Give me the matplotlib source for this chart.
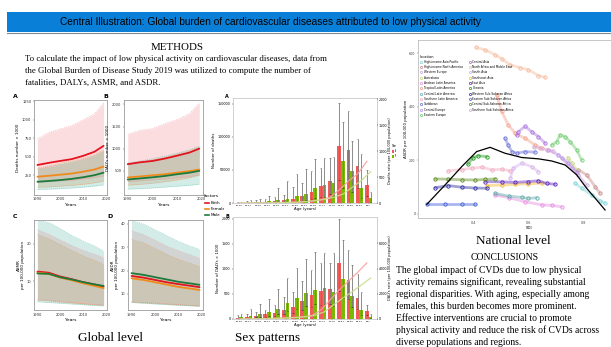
import matplotlib
matplotlib.use("Agg")
import matplotlib.pyplot as plt
from matplotlib.lines import Line2D
from matplotlib.patches import Rectangle
import numpy as np

W, H = 611, 347

# ---------------- data ----------------
title = "Central Illustration: Global burden of cardiovascular diseases attributed to low physical activity"
methods_lines = [
    "To calculate the impact of low physical activity on cardiovascular diseases, data from",
    "the Global Burden of Disease Study 2019 was utilized to compute the number of",
    "fatalities, DALYs, ASMR, and ASDR.",
]
conclusion_lines = [
    "The global impact of CVDs due to low physical",
    "activity remains significant, revealing substantial",
    "regional disparities. With aging, especially among",
    "females, this burden becomes more prominent.",
    "Effective interventions are crucial to promote",
    "physical activity and reduce the risk of CVDs across",
    "diverse populations and regions.",
]

years = [1990, 1995, 2000, 2005, 2010, 2015, 2019]
factors = ["Both", "Female", "Male"]

A_both = [386, 415, 441, 465, 509, 565, 645]
A_both_lo = [150, 160, 170, 180, 195, 215, 240]
A_both_hi = [736, 827, 873, 918, 995, 1077, 1223]
A_fem = [227, 240, 255, 270, 295, 325, 364]
A_fem_lo = [85, 90, 100, 110, 125, 145, 168]
A_fem_hi = [345, 375, 410, 440, 480, 530, 590]
A_male = [159, 170, 182, 198, 220, 248, 282]
A_male_lo = [55, 60, 66, 75, 86, 100, 118]
A_male_hi = [330, 360, 390, 420, 460, 510, 575]

B_both = [647, 690, 720, 774, 840, 910, 1000]
B_both_lo = [250, 270, 290, 310, 340, 370, 410]
B_both_hi = [1323, 1414, 1451, 1564, 1654, 1789, 2030]
B_fem = [346, 370, 395, 420, 455, 490, 526]
B_fem_lo = [173, 190, 215, 250, 290, 340, 398]
B_fem_hi = [660, 700, 745, 800, 880, 960, 1040]
B_male = [300, 325, 350, 380, 420, 455, 496]
B_male_lo = [83, 95, 110, 130, 150, 170, 195]
B_male_hi = [677, 720, 770, 830, 900, 970, 1053]

C_both = [12.6, 12.3, 11.3, 10.6, 9.8, 9.2, 8.6]
C_both_lo = [5.3, 5.0, 4.7, 4.4, 4.1, 3.9, 3.75]
C_both_hi = [23.7, 22.5, 21.0, 19.5, 18.2, 17.2, 16.3]
C_fem = [12.3, 12.0, 11.0, 10.3, 9.5, 8.8, 8.2]
C_fem_lo = [5.0, 4.8, 4.5, 4.3, 4.0, 3.8, 3.6]
C_fem_hi = [22.5, 21.3, 19.8, 18.2, 16.8, 15.6, 14.5]
C_male = [12.1, 12.0, 11.1, 10.5, 9.8, 9.2, 8.8]
C_male_lo = [4.6, 4.4, 4.2, 4.0, 3.8, 3.6, 3.5]
C_male_hi = [26.3, 25.6, 24.0, 22.2, 20.7, 19.4, 18.0]

D_both = [17.7, 17.0, 16.0, 15.0, 14.2, 13.5, 12.9]
D_both_lo = [6.7, 6.4, 6.1, 5.8, 5.4, 5.1, 4.9]
D_both_hi = [37.1, 35.5, 33.0, 30.5, 28.5, 26.8, 25.3]
D_fem = [16.7, 16.0, 15.0, 14.0, 13.0, 12.3, 11.7]
D_fem_lo = [6.5, 6.2, 5.9, 5.6, 5.3, 5.0, 4.8]
D_fem_hi = [33.4, 32.0, 29.5, 27.0, 24.8, 23.2, 21.7]
D_male = [18.9, 18.2, 17.2, 16.2, 15.2, 14.5, 13.9]
D_male_lo = [6.3, 6.0, 5.7, 5.4, 5.1, 4.9, 4.7]
D_male_hi = [41.4, 40.0, 37.5, 35.0, 32.5, 30.5, 29.1]

ages = ["25-29", "30-34", "35-39", "40-44", "45-49", "50-54", "55-59", "60-64",
        "65-69", "70-74", "75-79", "80-84", "85-89", "90-94", "95+"]
deaths_f = [200, 400, 800, 1500, 2500, 4000, 6000, 10000, 17000, 25000, 34000, 87000, 80000, 56000, 28000]
deaths_m = [300, 600, 1100, 2500, 4000, 6500, 10000, 14000, 22000, 28000, 31000, 63000, 48000, 23000, 7000]
deaths_f_lo = [50, 100, 200, 400, 700, 1200, 2000, 3500, 6000, 9000, 13000, 35000, 33000, 22000, 10000]
deaths_f_hi = [1500, 2500, 4000, 6500, 9000, 12000, 24000, 31000, 48000, 53000, 68000, 151000, 140000, 97000, 50000]
deaths_m_lo = [80, 150, 300, 700, 1200, 2000, 3000, 4500, 7000, 9000, 10000, 22000, 17000, 8000, 2000]
deaths_m_hi = [2000, 4000, 6500, 11000, 22000, 34000, 44000, 52000, 67000, 68000, 70000, 123000, 94000, 74000, 16000]
drate_f = [0.3, 0.6, 1, 2, 4, 7, 12, 20, 35, 60, 110, 250, 420, 560, 800]
drate_m = [0.5, 1, 2, 3, 6, 10, 17, 28, 45, 70, 110, 170, 300, 430, 600]

dalys_f = [26, 45, 65, 90, 123, 188, 240, 357, 480, 558, 597, 1116, 779, 415, 156]
dalys_m = [32, 58, 104, 143, 208, 318, 415, 519, 584, 610, 532, 805, 467, 175, 45]
dalys_f_lo = [10, 20, 30, 40, 60, 90, 120, 170, 230, 280, 300, 560, 400, 200, 70]
dalys_f_hi = [78, 97, 143, 175, 285, 435, 545, 760, 974, 1116, 1116, 1990, 1376, 889, 273]
dalys_m_lo = [12, 25, 45, 65, 95, 150, 200, 250, 290, 300, 260, 420, 230, 80, 20]
dalys_m_hi = [91, 208, 305, 402, 597, 824, 1019, 1194, 1343, 1311, 1311, 1570, 1084, 532, 91]
darate_f = [5, 10, 18, 30, 50, 80, 120, 180, 250, 700, 1500, 2300, 3000, 3700, 4450]
darate_m = [5, 10, 18, 30, 50, 80, 120, 180, 300, 570, 1120, 1660, 2160, 2700, 3250]

regions = ["High-income Asia Pacific", "High-income North America", "Western Europe", "Australasia",
           "Andean Latin America", "Tropical Latin America", "Central Latin America",
           "Southern Latin America", "Caribbean", "Central Europe", "Eastern Europe",
           "Central Asia", "North Africa and Middle East", "South Asia", "Southeast Asia",
           "East Asia", "Oceania", "Western Sub-Saharan Africa", "Eastern Sub-Saharan Africa",
           "Central Sub-Saharan Africa", "Southern Sub-Saharan Africa"]
region_colors = ["#7FD3D8", "#C98A8A", "#C7A3E0", "#C8D77A", "#E88BE0", "#F4A08C", "#5FA8A8",
                 "#F2A6BC", "#6A6FD6", "#B58BE8", "#6CCB6C", "#A86FE0", "#F7B89A", "#D6B0EC",
                 "#F2B830", "#5A1FC0", "#1A9A1A", "#2A2AA0", "#3E5FD8", "#5A8A1A", "#D9A8D8"]
sdi = {
    "High-income Asia Pacific": [0.771, 0.795, 0.832, 0.862, 0.880],
    "High-income North America": [0.783, 0.813, 0.844, 0.862],
    "Western Europe": [0.722, 0.759, 0.783, 0.813],
    "Australasia": [0.744, 0.759, 0.777],
    "Andean Latin America": [0.480, 0.529, 0.589, 0.650, 0.686, 0.722],
    "Tropical Latin America": [0.486, 0.504, 0.528, 0.553, 0.589, 0.625, 0.650],
    "Central Latin America": [0.480, 0.529, 0.577, 0.601, 0.631],
    "Southern Latin America": [0.310, 0.359, 0.395, 0.432, 0.468, 0.504, 0.535],
    "Caribbean": [0.516, 0.528, 0.541, 0.559, 0.589, 0.625],
    "Central Europe": [0.674, 0.710, 0.747, 0.777],
    "Eastern Europe": [0.686, 0.704, 0.716, 0.735, 0.753, 0.777, 0.795],
    "Central Asia": [0.559, 0.565, 0.589, 0.613, 0.638, 0.662],
    "North Africa and Middle East": [0.411, 0.444, 0.480, 0.504, 0.535, 0.571, 0.601, 0.638, 0.662],
    "South Asia": [0.535, 0.547, 0.577, 0.613, 0.638],
    "Southeast Asia": [0.450, 0.504, 0.553, 0.601, 0.650],
    "East Asia": [0.444, 0.504, 0.553, 0.601, 0.638, 0.668, 0.698],
    "Oceania": [0.381, 0.401, 0.419, 0.450],
    "Western Sub-Saharan Africa": [0.262, 0.310, 0.359, 0.407, 0.450],
    "Eastern Sub-Saharan Africa": [0.232, 0.298, 0.359, 0.407],
    "Central Sub-Saharan Africa": [0.262, 0.310, 0.359, 0.407, 0.444, 0.480],
    "Southern Sub-Saharan Africa": [0.620, 0.645, 0.670, 0.690],
}
asdr = {
    "High-income Asia Pacific": [115, 96, 71, 49, 40],
    "High-income North America": [165, 146, 102, 77],
    "Western Europe": [208, 171, 146, 108],
    "Australasia": [211, 190, 165],
    "Andean Latin America": [71, 61, 46, 34, 32, 27],
    "Tropical Latin America": [445, 383, 333, 302, 283, 258, 246],
    "Central Latin America": [77, 67, 62, 58, 61],
    "Southern Latin America": [161, 166, 171, 175, 165, 167, 161],
    "Caribbean": [283, 258, 233, 227, 233, 231],
    "Central Europe": [239, 221, 190, 158],
    "Eastern Europe": [258, 270, 295, 289, 270, 239, 202],
    "Central Asia": [295, 308, 327, 308, 289, 264],
    "North Africa and Middle East": [622, 613, 595, 580, 557, 547, 539, 517, 510],
    "South Asia": [133, 171, 190, 177, 158],
    "Southeast Asia": [106, 108, 111, 113, 115],
    "East Asia": [121, 120, 118, 121, 124, 114, 111],
    "Oceania": [186, 211, 218, 214],
    "Western Sub-Saharan Africa": [98, 106, 100, 97, 96],
    "Eastern Sub-Saharan Africa": [36, 36, 36, 36],
    "Central Sub-Saharan Africa": [131, 130, 128, 127, 129, 131],
    "Southern Sub-Saharan Africa": [250, 245, 240, 236],
}
trend_sdi = [0.232, 0.298, 0.359, 0.413, 0.462, 0.516, 0.577, 0.638, 0.686, 0.735, 0.777, 0.813, 0.844, 0.880]
trend_asdr = [36, 108, 177, 233, 249, 227, 211, 206, 198, 183, 146, 96, 59, 15]

# ---------------- helpers ----------------
fig = plt.figure(figsize=(W / 100, H / 100), dpi=100)
fig.patch.set_facecolor("white")


def px_axes(l, t, r, b, **kw):
    return fig.add_axes([l / W, 1 - b / H, (r - l) / W, (b - t) / H], **kw)


def ftext(x, y, s, **kw):
    return fig.text(x / W, 1 - y / H, s, **kw)


SERIF = ["Liberation Serif", "DejaVu Serif"]
SANS = ["Liberation Sans", "DejaVu Sans"]
GRID_C = "#9a9a9a"

# ---------------- banner ----------------
fig.patches.append(Rectangle((7 / W, 1 - 32 / H), (W - 7) / W, 20 / H, transform=fig.transFigure,
                             facecolor="#0A7FD8", edgecolor="none", zorder=0))
fig.lines.append(Line2D([7 / W, 1], [1 - 32.5 / H, 1 - 32.5 / H], transform=fig.transFigure,
                        color="#7a8a99", lw=0.8))
ftext(271, 22, title, ha="center", va="center", fontsize=7.3, family=SANS, color="black")

# ---------------- methods ----------------
ftext(177, 47, "METHODS", ha="center", va="center", fontsize=7.8, family=SERIF)
for i, line in enumerate(methods_lines):
    ftext(25, 59 + 12 * i, line, ha="left", va="center", fontsize=6.35, family=SERIF)

# ---------------- global level ----------------
col_line = {"Both": "#E3141E", "Female": "#F08A1A", "Male": "#1E7A3C"}
col_fill = {"Both": "#F5909A", "Female": "#E39A5C", "Male": "#70C2B2"}


def global_panel(rect, letter, series, ylim, yticks, ylabel):
    ax = px_axes(*rect)
    for name, (m, lo, hi) in zip(factors, series):
        ax.fill_between(years, lo, hi, color=col_fill[name], alpha=0.3, lw=0)
        ax.plot(years, lo, color=col_fill[name], lw=0.4, ls=(0, (2, 1.5)), alpha=0.8)
        ax.plot(years, hi, color=col_fill[name], lw=0.4, ls=(0, (2, 1.5)), alpha=0.8)
    for name, (m, lo, hi) in zip(factors, series):
        ax.plot(years, m, color=col_line[name], lw=1.3, solid_capstyle="round")
    ax.set_xlim(1988.5, 2020.5)
    ax.set_ylim(*ylim)
    ax.set_xticks([1990, 2000, 2010, 2020])
    ax.set_yticks(yticks)
    ax.tick_params(labelsize=2.6, length=1, width=0.3, pad=0.8, colors="#333333")
    for s in ax.spines.values():
        s.set_color(GRID_C)
        s.set_linewidth(0.6)
    ax.set_xlabel("Years", fontsize=3.2, labelpad=1)
    ax.set_ylabel(ylabel, fontsize=3.0, labelpad=1.5, linespacing=1.0)
    ftext(rect[0] - 21, rect[1] - 4, letter, fontsize=4.5, fontweight="bold", ha="left", va="center")
    return ax


global_panel((34, 100, 107, 195), "A",
             [(A_both, A_both_lo, A_both_hi), (A_fem, A_fem_lo, A_fem_hi), (A_male, A_male_lo, A_male_hi)],
             (-20, 1265), [250, 500, 750, 1000, 1250], "Deaths number \u00d7 1000")
global_panel((124, 100, 203, 195), "B",
             [(B_both, B_both_lo, B_both_hi), (B_fem, B_fem_lo, B_fem_hi), (B_male, B_male_lo, B_male_hi)],
             (-50, 2100), [500, 1000, 1500, 2000], "DALYs number \u00d7 1000")
global_panel((34, 220, 107, 310), "C",
             [(C_both, C_both_lo, C_both_hi), (C_fem, C_fem_lo, C_fem_hi), (C_male, C_male_lo, C_male_hi)],
             (2.4, 26.3), [10, 20], "ASMR\nper 100,000 population")
global_panel((128, 220, 203, 310), "D",
             [(D_both, D_both_lo, D_both_hi), (D_fem, D_fem_lo, D_fem_hi), (D_male, D_male_lo, D_male_hi)],
             (3.1, 41.7), [10, 20, 30, 40], "ASDR\nper 100,000 population")

# factors legend (its right end is hidden behind the sex-pattern panel)
ftext(204, 196, "factors", fontsize=3.2, ha="left", va="center", zorder=3)
for i, name in enumerate(factors):
    y = 202.5 + 6.0 * i
    fig.lines.append(Line2D([205 / W, 209 / W], [1 - y / H, 1 - y / H], transform=fig.transFigure,
                            color=col_line[name], lw=1.2))
    ftext(211, y, name, fontsize=3.0, ha="left", va="center", zorder=3)
ftext(110, 338, "Global level", ha="center", va="center", fontsize=9.5, family=SERIF)

# ---------------- sex patterns ----------------
fig.patches.append(Rectangle((224 / W, 1 - 322 / H), (395 - 224) / W, (322 - 88) / H,
                             transform=fig.transFigure, facecolor="white", edgecolor="none", zorder=3.2))

F_COL, M_COL = "#F25A5A", "#7BB800"


def sex_panel(rect, letter, vf, vm, flo, fhi, mlo, mhi, rf, rm, ylim, yticks, rlim, rticks, ylabel, rlabel):
    ax = px_axes(*rect, zorder=4)
    x = np.arange(len(ages))
    w = 0.4
    ax.bar(x - w / 2, vf, width=w, color=F_COL, zorder=2)
    ax.bar(x + w / 2, vm, width=w, color=M_COL, zorder=2)
    ax.vlines(x - w / 2, flo, fhi, color="#7a7a7a", lw=0.6, zorder=3)
    ax.vlines(x + w / 2, mlo, mhi, color="#7a7a7a", lw=0.6, zorder=3)
    ax.hlines(fhi, x - w / 2 - 0.08, x - w / 2 + 0.08, color="#555555", lw=0.4, zorder=3)
    ax.hlines(mhi, x + w / 2 - 0.08, x + w / 2 + 0.08, color="#555555", lw=0.4, zorder=3)
    ax.hlines(flo, x - w / 2 - 0.08, x - w / 2 + 0.08, color="#222222", lw=0.4, zorder=3)
    ax.hlines(mlo, x + w / 2 - 0.08, x + w / 2 + 0.08, color="#222222", lw=0.4, zorder=3)
    ax.set_xlim(-0.7, len(ages) - 0.1)
    ax.set_ylim(*ylim)
    ax.set_yticks(yticks)
    ax.set_xticks(x)
    ax.set_xticklabels(ages)
    ax.tick_params(axis="x", labelsize=1.7, length=0.8, width=0.3, pad=0.6)
    ax.tick_params(axis="y", labelsize=2.4, length=1, width=0.3, pad=0.8)
    for s in ax.spines.values():
        s.set_color("#bdbdbd")
        s.set_linewidth(0.5)
    ax.set_xlabel("Age (years)", fontsize=2.8, labelpad=0.8)
    ax.set_ylabel(ylabel, fontsize=2.8, labelpad=1.5)
    ax2 = ax.twinx()
    ax2.plot(x - w / 2, rf, color="#F7A0A0", lw=0.9, alpha=0.9)
    ax2.plot(x + w / 2, rm, color="#C8DC8A", lw=0.9, alpha=0.9)
    ax2.set_ylim(*rlim)
    ax2.set_yticks(rticks)
    ax2.tick_params(axis="y", labelsize=2.4, length=1, width=0.3, pad=0.5)
    for s in ax2.spines.values():
        s.set_visible(False)
    ax2.set_ylabel(rlabel, fontsize=2.5, labelpad=0.4)
    ftext(rect[0] - 8, rect[1] - 1, letter, fontsize=3.5, fontweight="bold", ha="left", va="center", zorder=5)
    return ax


sex_panel((233, 98, 377, 203), "A", deaths_f, deaths_m, deaths_f_lo, deaths_f_hi, deaths_m_lo, deaths_m_hi,
          drate_f, drate_m, (0, 159000), [0, 50000, 100000, 150000], (0, 2020), [0, 500, 1000, 1500, 2000],
          "Number of deaths", "Deaths rate (per 100,000 population)")
sex_panel((233, 217, 377, 319), "B", dalys_f, dalys_m, dalys_f_lo, dalys_f_hi, dalys_m_lo, dalys_m_hi,
          darate_f, darate_m, (0, 2030), [0, 500, 1000, 1500, 2000], (0, 8100), [0, 2000, 4000, 6000],
          "Number of DALYs \u00d7 1000", "DALYs rate (per 100,000 population)")

# Sex legend (its right end is hidden behind the national panel)
ftext(391.5, 146, "Sex", fontsize=2.8, ha="left", va="center", zorder=3.3)
for i, (lab, c) in enumerate([("Female", F_COL), ("Male", M_COL)]):
    y = 151.5 + 4.5 * i
    fig.patches.append(Rectangle((391.5 / W, 1 - (y + 1.5) / H), 2.6 / W, 3.0 / H, transform=fig.transFigure,
                                 facecolor=c, edgecolor="none", zorder=3.3))
    ftext(394.6, y, lab, fontsize=1.9, ha="left", va="center", zorder=3.3)
ftext(268, 338, "Sex patterns", ha="center", va="center", fontsize=9.5, family=SERIF, zorder=5)

# ---------------- national level ----------------
fig.patches.append(Rectangle((396 / W, 1 - 232 / H), (W - 396) / W, (232 - 35) / H,
                             transform=fig.transFigure, facecolor="white", edgecolor="none", zorder=3.5))
axn = px_axes(418, 40, 640, 218, zorder=4)
for name, c in zip(regions, region_colors):
    axn.plot(sdi[name], asdr[name], color=c, lw=2.0, alpha=0.45, solid_capstyle="round")
    axn.plot(sdi[name], asdr[name], ls="none", marker="o", ms=2.4, mfc="none", mec=c, mew=0.6)
axn.plot(trend_sdi, trend_asdr, color="black", lw=0.9)
axn.set_xlim(0.2, 1.007)
axn.set_ylim(-15, 650)
axn.set_xticks([0.4, 0.6, 0.8])
axn.set_yticks([0, 200, 400, 600])
axn.tick_params(labelsize=2.4, length=1, width=0.3, pad=0.8, colors="#444444")
for s in axn.spines.values():
    s.set_color("#bdbdbd")
    s.set_linewidth(0.6)
axn.set_xlabel("SDI", fontsize=2.8, labelpad=1)
axn.set_ylabel("ASDR per 100,000 population", fontsize=2.8, labelpad=0.8)
handles = [Line2D([], [], ls="none", marker="o", ms=1.6, mfc="none", mec=c, mew=0.5)
           for c in region_colors]
leg = axn.legend(handles, regions, title="location", loc="upper left", bbox_to_anchor=(0.0, 0.93),
                 ncol=2, fontsize=2.1, title_fontsize=2.6, frameon=False, handlelength=0.8,
                 handletextpad=0.4, labelspacing=0.45, columnspacing=2.2, borderpad=0.2)
leg._legend_box.align = "left"

ftext(513, 241, "National level", ha="center", va="center", fontsize=9.5, family=SERIF, zorder=5)
ftext(505, 257, "CONCLUSIONS", ha="center", va="center", fontsize=7.0, family=SERIF, zorder=5)
for i, line in enumerate(conclusion_lines):
    ftext(396, 270 + 12.1 * i, line, ha="left", va="center", fontsize=6.9, family=SERIF, zorder=5)

fig.savefig("out.png", dpi=100)
